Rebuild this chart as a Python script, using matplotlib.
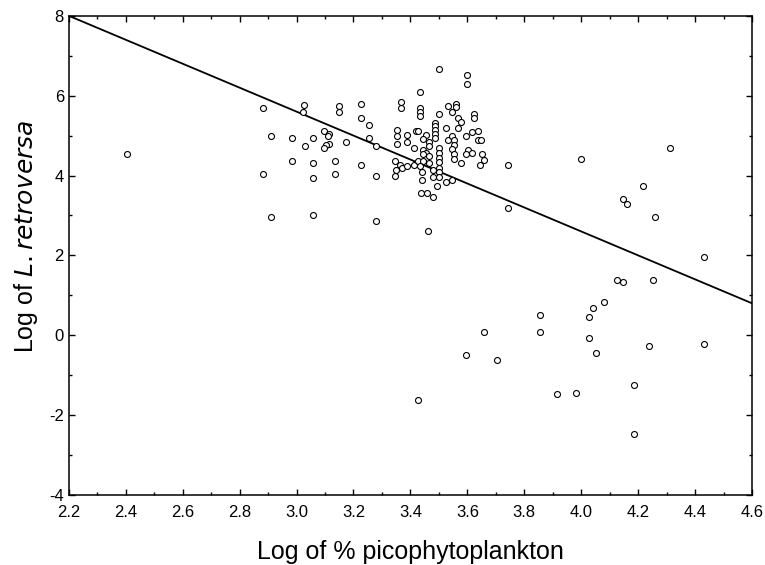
import matplotlib
matplotlib.use("Agg")
import matplotlib.pyplot as plt
from matplotlib.ticker import MultipleLocator, FormatStrFormatter

plt.rcParams['font.family'] = ['Liberation Sans', 'DejaVu Sans']
plt.rcParams['axes.unicode_minus'] = False

# Log of % picophytoplankton (x) / Log of L. retroversa (y)
log_pico = [
    2.883, 3.027, 3.023, 3.149, 3.149, 3.228, 3.228, 3.254,
    2.910, 2.984, 3.056, 3.029, 3.096, 3.115, 3.109, 3.115, 3.105, 3.096, 3.174, 3.254, 3.280,
    2.984, 3.056, 3.136, 3.228, 2.883, 3.056, 3.136, 3.280,
    2.910, 3.056, 3.280, 3.433,
    3.499, 3.598, 3.598, 3.367, 3.367, 3.433, 3.433, 3.433, 3.533, 3.559, 3.559, 3.546, 3.499,
    3.566, 3.579, 3.624, 3.624,
    3.486, 3.486, 3.486, 3.486, 3.486, 3.525, 3.566,
    3.354, 3.354, 3.354, 3.387, 3.387, 3.420, 3.428, 3.453, 3.445, 3.466, 3.466,
    3.499, 3.499, 3.499, 3.499, 3.499, 3.499,
    3.533, 3.546, 3.552, 3.552, 3.546, 3.552, 3.552,
    3.597, 3.616, 3.637, 3.637, 3.649,
    3.412, 3.445, 3.453, 3.445, 3.466,
    3.603, 3.597, 3.616, 3.650, 3.579, 3.659, 3.644, 3.744, 3.744,
    3.346, 3.363, 3.351, 3.346, 3.369, 3.387, 3.412, 3.428, 3.445, 3.466, 3.433, 3.439, 3.439,
    3.480, 3.478, 3.499, 3.525, 3.545, 3.492, 3.438, 3.457, 3.478, 3.460,
    4.000, 4.312, 4.218, 4.147, 4.160, 4.259, 4.430, 4.126, 4.147, 4.252,
    4.080, 4.041, 4.027, 3.856, 3.856, 3.657, 4.027, 4.053, 4.239, 4.430,
    3.704, 3.915, 3.981, 4.185, 4.185, 3.597, 3.426, 2.403,
]
log_retro = [
    5.69, 5.77, 5.60, 5.74, 5.59, 5.78, 5.44, 5.26,
    4.98, 4.93, 4.93, 4.74, 5.12, 5.04, 4.98, 4.79, 4.76, 4.69, 4.84, 4.93, 4.74,
    4.37, 4.32, 4.37, 4.27, 4.03, 3.94, 4.03, 3.98,
    2.96, 3.00, 2.86, 6.10,
    6.67, 6.53, 6.30, 5.83, 5.69, 5.69, 5.59, 5.50, 5.73, 5.79, 5.71, 5.58, 5.55,
    5.44, 5.34, 5.55, 5.44,
    5.31, 5.23, 5.14, 5.04, 4.95, 5.20, 5.20,
    5.13, 4.98, 4.79, 5.02, 4.84, 5.12, 5.12, 5.02, 4.92, 4.84, 4.75,
    4.69, 4.56, 4.45, 4.33, 4.18, 4.08,
    4.89, 4.99, 4.89, 4.77, 4.67, 4.54, 4.41,
    4.98, 5.08, 5.12, 4.89, 4.89,
    4.69, 4.64, 4.57, 4.54, 4.48,
    4.64, 4.54, 4.56, 4.54, 4.31, 4.38, 4.26, 4.26, 3.18,
    4.37, 4.26, 4.14, 3.98, 4.18, 4.23, 4.26, 4.37, 4.37, 4.31, 4.23, 4.08, 3.89,
    4.14, 3.97, 3.97, 3.85, 3.89, 3.75, 3.56, 3.56, 3.47, 2.62,
    4.41, 4.69, 3.75, 3.42, 3.28, 2.95, 1.96, 1.39, 1.34, 1.39,
    0.83, 0.68, 0.45, 0.50, 0.08, 0.08, -0.07, -0.44, -0.26, -0.21,
    -0.63, -1.48, -1.44, -1.24, -2.47, -0.49, -1.63, 4.55,
]

# fitted line end points
fit_x = [2.2, 4.6]
fit_y = [8.0, 0.8]

fig = plt.figure(figsize=(7.65, 5.65), dpi=100)
ax = fig.add_axes([0.090, 0.124, 0.893, 0.848])

ax.plot(log_pico, log_retro, 'o', ms=4.3, mfc='white', mec='black', mew=0.8,
        linestyle='none', zorder=3)
ax.plot(fit_x, fit_y, color='black', lw=1.3, zorder=2)

ax.set_xlim(2.2, 4.6)
ax.set_ylim(-4, 8)
ax.xaxis.set_major_locator(MultipleLocator(0.2))
ax.xaxis.set_minor_locator(MultipleLocator(0.1))
ax.yaxis.set_major_locator(MultipleLocator(2))
ax.yaxis.set_minor_locator(MultipleLocator(1))
ax.xaxis.set_major_formatter(FormatStrFormatter('%.1f'))

ax.tick_params(which='both', direction='in', top=True, right=True,
               labelsize=12, width=1)
ax.tick_params(axis='x', which='major', pad=7)
ax.tick_params(which='major', length=4)
ax.tick_params(which='minor', length=2.5)
for sp in ax.spines.values():
    sp.set_linewidth(1.1)

ax.set_xlabel('Log of % picophytoplankton', fontsize=18)
ax.xaxis.set_label_coords(0.5, -0.095)
ax.set_ylabel('Log of $\\it{L. retroversa}$', fontsize=18)
ax.yaxis.set_label_coords(-0.042, 0.54)

fig.savefig('out.png', dpi=100)
